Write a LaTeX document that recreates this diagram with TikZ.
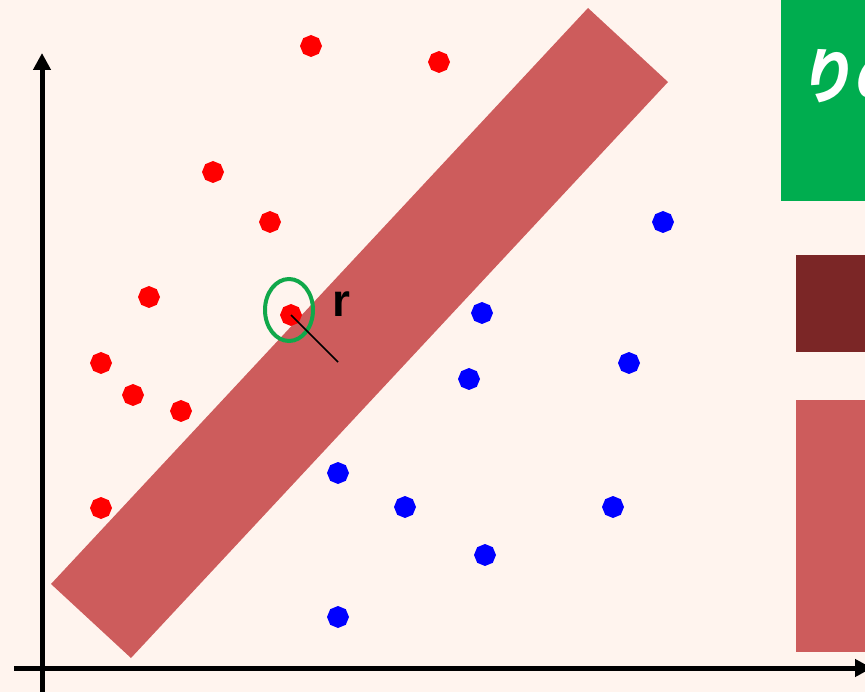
\documentclass[tikz,border=0pt]{standalone}
\usepackage{fontspec}
\setmainfont{Liberation Sans}
\newfontfamily\jpfont{Noto Sans CJK JP}
\usetikzlibrary{arrows.meta,shapes.geometric}
\definecolor{bg}{RGB}{255,244,238}
\definecolor{band}{RGB}{205,92,92}
\definecolor{darkred}{RGB}{123,38,38}
\definecolor{boxgreen}{RGB}{0,173,79}
\definecolor{ringgreen}{RGB}{16,168,74}
\definecolor{dotblue}{RGB}{0,0,255}
\definecolor{dotred}{RGB}{255,0,0}
\tikzset{
  dotstyle/.style={regular polygon,regular polygon sides=8,shape border rotate=22.5,minimum size=22pt,inner sep=0pt,draw=none},
  reddot/.style={dotstyle,fill=dotred},
  bluedot/.style={dotstyle,fill=dotblue},
  axis/.style={line width=5pt,-{Triangle[width=17pt,length=17pt]}},
}
\begin{document}
\begin{tikzpicture}[x=1pt,y=-1pt]
\useasboundingbox (0,0) rectangle (865,692);
\fill[bg] (0,0) rectangle (865,692);
\clip (0,0) rectangle (865,692);
% band
\fill[band] (588,8) -- (668,82) -- (131,658) -- (51,584) -- cycle;
% right side boxes
\fill[boxgreen] (781,0) rectangle (870,201);
\node[anchor=west,text=white,font=\jpfont\bfseries\fontsize{60}{66}\selectfont,inner sep=0pt,xslant=0.15,xscale=0.9] (jp) at (803,76) {りの};
\fill[darkred] (796,255) rectangle (870,352);
\fill[band] (796,400) rectangle (870,652);
% axes
\coordinate (yb) at (42,692);
\coordinate (yt) at (42,53);
\coordinate (xl) at (14,668);
\coordinate (xr) at (872,668);
\draw[axis] (yb) -- (yt);
\draw[axis] (xl) -- (xr);
% red dots
\node[reddot] (r1) at (311,46) {};
\node[reddot] (r2) at (439,62) {};
\node[reddot] (r3) at (213,172) {};
\node[reddot] (r4) at (270,222) {};
\node[reddot] (r5) at (149,297) {};
\node[reddot] (r6) at (291,315) {};
\node[reddot] (r7) at (101,363) {};
\node[reddot] (r8) at (133,395) {};
\node[reddot] (r9) at (181,411) {};
\node[reddot] (r10) at (101,508) {};
% blue dots
\node[bluedot] (b1) at (663,222) {};
\node[bluedot] (b2) at (482,313) {};
\node[bluedot] (b3) at (629,363) {};
\node[bluedot] (b4) at (469,379) {};
\node[bluedot] (b5) at (338,473) {};
\node[bluedot] (b6) at (405,507) {};
\node[bluedot] (b7) at (613,507) {};
\node[bluedot] (b8) at (485,555) {};
\node[bluedot] (b9) at (338,617) {};
% support vector marker
\node[draw=ringgreen,line width=4pt,ellipse,minimum width=48pt,minimum height=62pt,inner sep=0pt] (ring) at (289,310) {};
\coordinate (rend) at (338,362);
\draw[line width=1.5pt] (r6.center) -- (rend);
\node[font=\bfseries\fontsize{46}{50}\selectfont,inner sep=0pt,anchor=base] (rlab) at (341,317) {r};
\end{tikzpicture}
\end{document}
